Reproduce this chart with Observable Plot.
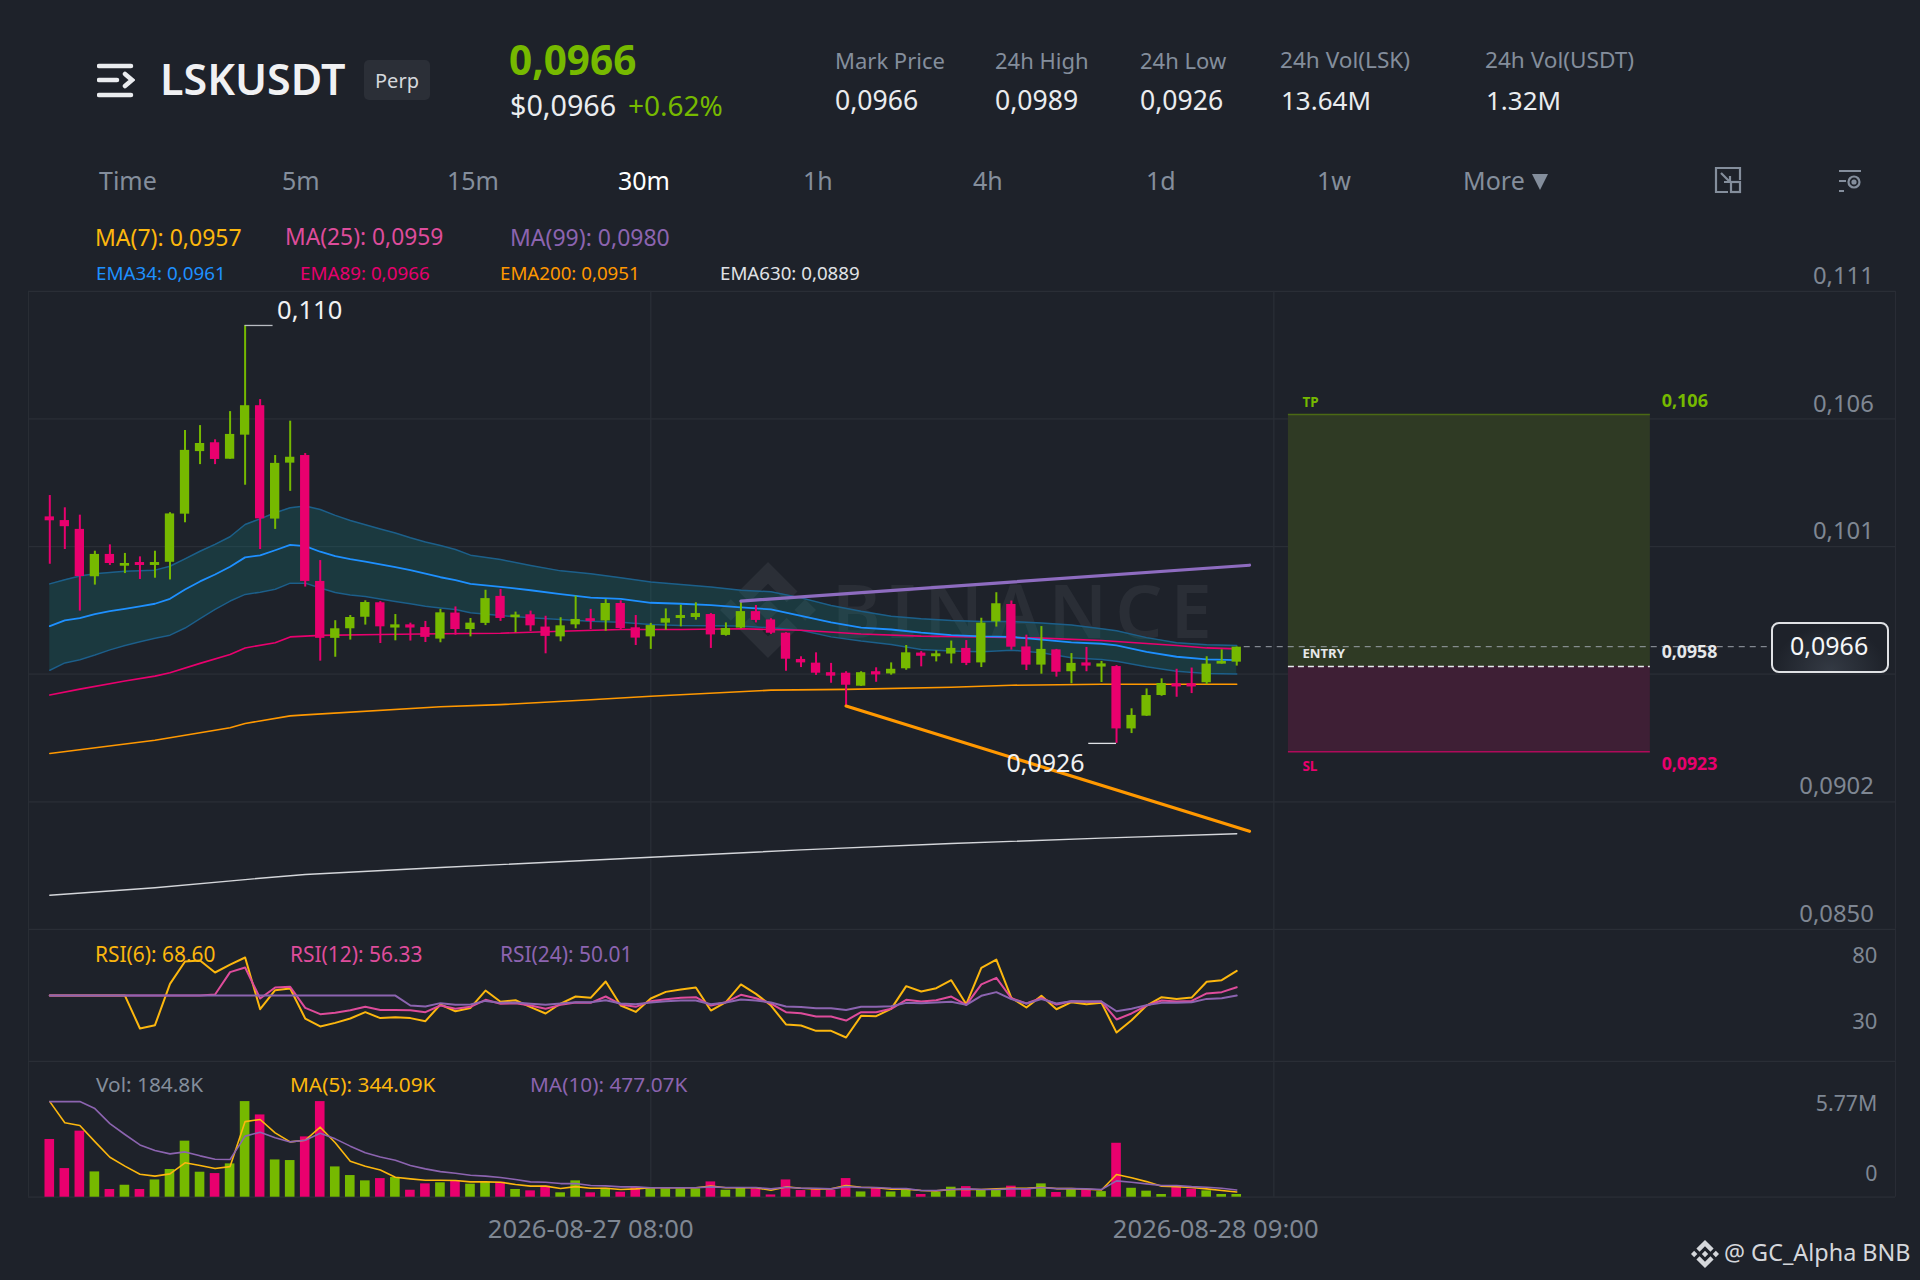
<!DOCTYPE html>
<html><head><meta charset="utf-8">
<script src="https://cdn.jsdelivr.net/npm/d3@7"></script>
<script src="https://cdn.jsdelivr.net/npm/@observablehq/plot@0.6"></script>
<style>
html,body{margin:0;padding:0;background:#1e222a;}
#page{position:relative;width:1920px;height:1280px;overflow:hidden;background:#1e222a;font-family:"Noto Sans",sans-serif;color:#eaecef;}
#page>div.plot{position:absolute;left:0;}
#page svg{display:block;}
.t{position:absolute;white-space:nowrap;transform:translateY(-50%);line-height:1;}
.g{color:#848e9c;}
</style></head>
<body>
<div id="page">
<!-- watermark sits below the charts -->
<svg style="position:absolute;left:720px;top:562px" width="96" height="96" viewBox="0 0 126.61 126.61" fill="#2b2f37"><path d="M38.73 53.2l24.59-24.58 24.6 24.6 14.3-14.31L63.32 0 24.43 38.9z"/><path d="M0 63.31l14.3-14.31 14.31 14.31-14.31 14.3z"/><path d="M38.73 73.41l24.59 24.59 24.6-24.6 14.31 14.29L63.32 126.61 24.43 87.72z"/><path d="M98 63.31l14.3-14.31 14.31 14.31-14.31 14.3z"/><path d="M77.83 63.3L63.32 48.78 52.59 59.51l-1.24 1.23-2.54 2.54 14.51 14.5 14.51-14.47z"/></svg>
<div class="t" style="left:832px;top:610px;font-size:74px;font-weight:600;letter-spacing:8px;color:#2a2e36">BINANCE</div>

<div class="plot" id="pricePlot" style="top:259px"></div>
<div class="plot" id="rsiPlot" style="top:929px"></div>
<div class="plot" id="volPlot" style="top:1061px"></div>

<svg style="position:absolute;left:97px;top:63px" width="38" height="36" fill="none" stroke="#eaecef" stroke-width="4.5" stroke-linecap="round"><path d="M2 3H34M2 17H20M2 32H34M28 11L35 17L28 23" /></svg>
<div class="t" style="left:160px;top:78px;font-size:43px;font-weight:600;color:#f0f1f3">LSKUSDT</div>
<div style="position:absolute;left:364px;top:60px;width:66px;height:40px;border-radius:5px;background:#2b2f37"></div>
<div class="t" style="left:375px;top:81px;font-size:20px;color:#d5d8dc">Perp</div>
<div class="t" style="left:509px;top:60px;font-size:40.5px;font-weight:700;color:#76b900">0,0966</div>
<div class="t" style="left:510px;top:105px;font-size:28.7px;color:#eaecef">$0,0966</div>
<div class="t" style="left:628px;top:105px;font-size:28px;color:#76b900">+0.62%</div>

<div class="t g" style="left:835px;top:60px;font-size:22px">Mark Price</div>
<div class="t" style="left:835px;top:100px;font-size:26.6px">0,0966</div>
<div class="t g" style="left:995px;top:60px;font-size:22px">24h High</div>
<div class="t" style="left:995px;top:100px;font-size:26.6px">0,0989</div>
<div class="t g" style="left:1140px;top:60px;font-size:22px">24h Low</div>
<div class="t" style="left:1140px;top:100px;font-size:26.6px">0,0926</div>
<div class="t g" style="left:1280px;top:60px;font-size:22.6px">24h Vol(LSK)</div>
<div class="t" style="left:1281px;top:100px;font-size:26px">13.64M</div>
<div class="t g" style="left:1485px;top:60px;font-size:22.6px">24h Vol(USDT)</div>
<div class="t" style="left:1486px;top:100px;font-size:26px">1.32M</div>

<div class="t g" style="left:99px;top:180px;font-size:25px">Time</div>
<div class="t g" style="left:282px;top:180px;font-size:25px">5m</div>
<div class="t g" style="left:447px;top:180px;font-size:25px">15m</div>
<div class="t" style="left:618px;top:180px;font-size:25px;color:#fff">30m</div>
<div class="t g" style="left:803px;top:180px;font-size:25px">1h</div>
<div class="t g" style="left:973px;top:180px;font-size:25px">4h</div>
<div class="t g" style="left:1146px;top:180px;font-size:25px">1d</div>
<div class="t g" style="left:1317px;top:180px;font-size:25px">1w</div>
<div class="t g" style="left:1463px;top:180px;font-size:25px">More</div>
<svg style="position:absolute;left:1531px;top:174px" width="20" height="17" fill="#848e9c"><path d="M1 0H17L9 16Z"/></svg>
<svg style="position:absolute;left:1714px;top:166px" width="28" height="28" fill="none" stroke="#848e9c" stroke-width="2.2"><path d="M14 26H2V2H26V14M7 7L16 16M16 10V16H10"/><rect x="17" y="16" width="9" height="10"/></svg>
<svg style="position:absolute;left:1838px;top:169px" width="26" height="24" fill="none" stroke="#848e9c" stroke-width="2.2"><path d="M1 2H23M1 12H8M1 22H6"/><circle cx="16" cy="13" r="5.5"/><circle cx="16" cy="13" r="1.5" fill="#848e9c"/></svg>

<div class="t" style="left:95px;top:237px;font-size:23px;color:#fcb70e">MA(7): 0,0957</div>
<div class="t" style="left:285px;top:237px;font-size:22.8px;color:#de4c9b">MA(25): 0,0959</div>
<div class="t" style="left:510px;top:237px;font-size:23px;color:#8c64b0">MA(99): 0,0980</div>
<div class="t" style="left:96px;top:273px;font-size:18.8px;color:#1e90ff">EMA34: 0,0961</div>
<div class="t" style="left:300px;top:273px;font-size:18.8px;color:#e6006e">EMA89: 0,0966</div>
<div class="t" style="left:500px;top:273px;font-size:18.7px;color:#ff9800">EMA200: 0,0951</div>
<div class="t" style="left:720px;top:273px;font-size:18.7px;color:#e0e2e6">EMA630: 0,0889</div>

<div style="position:absolute;left:1771px;top:622px;width:114px;height:47px;border:2px solid #dfe1e4;border-radius:8px;background:radial-gradient(ellipse at 50% 100%,#343a44 0%,#1e222a 70%)"></div>
<div class="t" style="left:1790px;top:645px;font-size:25px;color:#f5f6f7">0,0966</div>

<div class="t" style="left:95px;top:954px;font-size:20.9px;color:#fcb70e">RSI(6): 68.60</div>
<div class="t" style="left:290px;top:954px;font-size:20.9px;color:#de4c9b">RSI(12): 56.33</div>
<div class="t" style="left:500px;top:954px;font-size:20.9px;color:#8c64b0">RSI(24): 50.01</div>
<div class="t g" style="left:96px;top:1084px;font-size:20.8px">Vol: 184.8K</div>
<div class="t" style="left:290px;top:1084px;font-size:20.8px;color:#fcb70e">MA(5): 344.09K</div>
<div class="t" style="left:530px;top:1084px;font-size:20.8px;color:#8c64b0">MA(10): 477.07K</div>

<svg style="position:absolute;left:1691px;top:1240px" width="28" height="28" viewBox="0 0 126.61 126.61" fill="#d5d7db"><path d="M38.73 53.2l24.59-24.58 24.6 24.6 14.3-14.31L63.32 0 24.43 38.9z"/><path d="M0 63.31l14.3-14.31 14.31 14.31-14.31 14.3z"/><path d="M38.73 73.41l24.59 24.59 24.6-24.6 14.31 14.29L63.32 126.61 24.43 87.72z"/><path d="M98 63.31l14.3-14.31 14.31 14.31-14.31 14.3z"/><path d="M77.83 63.3L63.32 48.78 52.59 59.51l-1.24 1.23-2.54 2.54 14.51 14.5 14.51-14.47z"/></svg>
<div class="t" style="left:1724px;top:1253px;font-size:23.4px;color:#d5d7db">@ GC_Alpha BNB</div>
</div>

<script>
// Prices are in units of 0.0001 USDT
const open = [1018.1,1016.6,1013.0,993.7,1002.8,998.0,999.5,998.3,999.6,1019.2,
1044.7,1048.3,1041.6,1051.4,1063.4,1017.2,1040.0,1043.1,991.8,968.6,
972.5,977.2,983.1,972.8,974.1,973.0,968.3,978.9,972.2,974.7,
985.7,977.0,978.2,973.2,969.2,974.1,976.6,975.7,982.8,972.9,
969.2,974.8,976.7,977.1,978.3,969.8,972.8,979.5,976.1,970.7,
960.0,958.5,954.6,954.4,949.1,955.0,954.1,956.2,962.6,961.1,
962.2,964.5,958.6,975.3,982.4,965.1,957.7,963.9,955.0,958.6,
956.9,957.1,931.7,936.9,945.3,950.1,950.1,950.5,958.1,958.9];
const high = [1026.8,1021.8,1018.8,1004.1,1006.7,1003.2,1001.8,1004.1,1019.8,1053.3,
1055.3,1049.5,1061.0,1096.1,1065.9,1043.1,1057.1,1043.9,1000.3,975.8,
977.9,983.9,983.6,978.3,974.8,975.5,980.4,981.4,976.7,988.2,
988.5,979.3,979.7,977.6,977.0,985.8,980.4,984.4,983.9,977.9,
974.7,980.6,982.1,983.1,978.7,974.9,983.6,982.0,976.6,970.9,
961.1,962.7,958.4,955.0,955.0,956.6,958.6,965.7,963.2,963.5,
967.5,967.7,976.8,987.2,983.8,969.9,973.4,964.1,962.4,964.9,
959.2,957.5,939.9,948.0,952.1,956.0,956.5,961.1,963.9,965.1];
const low = [998.8,1004.8,979.7,990.3,998.3,995.0,992.6,993.1,992.4,1015.7,
1039.4,1039.4,1041.6,1031.0,1004.8,1013.0,1028.5,989.5,959.3,960.9,
967.9,974.0,966.5,967.6,967.5,966.9,966.8,969.9,969.2,973.8,
975.5,970.9,971.4,962.3,967.2,972.5,972.2,971.5,972.2,965.7,
964.1,971.9,973.3,976.0,964.5,969.5,972.5,974.9,970.2,955.2,
956.7,953.5,950.3,941.0,949.0,950.7,953.6,955.6,957.0,959.0,
958.2,957.5,956.7,973.2,963.8,955.5,954.0,952.8,950.1,955.0,
950.6,925.8,929.8,936.8,945.0,944.6,946.1,949.7,958.1,957.3];
const close = [1016.5,1014.1,993.8,1002.8,999.1,999.1,998.3,999.5,1019.3,1045.2,
1048.0,1041.5,1051.7,1063.4,1017.3,1039.9,1042.4,991.8,968.6,972.5,
977.1,983.2,973.3,974.1,972.8,969.0,979.0,972.2,974.8,984.8,
976.7,978.1,973.7,969.4,973.7,976.3,975.5,982.8,972.6,968.7,
973.8,976.6,977.9,978.7,970.0,972.6,979.5,975.9,970.7,960.1,
958.6,954.4,953.2,949.5,954.6,953.7,956.0,962.7,961.3,962.3,
964.5,958.4,974.8,982.7,965.0,957.7,964.1,954.8,958.4,957.3,
958.2,931.7,937.2,945.3,950.2,948.8,948.8,958.1,959.2,965.0];
// Volume, millions
const volume = [3.81,1.89,4.36,1.67,.51,.79,.51,1.14,1.83,3.70,1.65,1.56,2.20,6.31,5.43,2.46,2.42,3.98,6.31,2.00,
1.43,1.08,1.23,1.30,.46,.88,.95,1.06,.86,.99,.99,.51,.42,.73,.29,1.08,.29,.59,.33,.66,
.55,.55,.55,.55,1.01,.46,.59,.55,.15,1.14,.44,.51,.46,1.23,.35,.59,.35,.48,.18,.33,
.66,.70,.46,.46,.73,.51,.88,.31,.51,.46,.37,3.56,.59,.40,.18,.70,.53,.42,.18,.18];
const volMA5 = [6.31,4.91,4.73,3.67,2.64,2.05,1.52,1.39,1.54,2.27,2.09,1.89,2.02,4.99,5.13,4.25,3.65,3.76,4.62,3.59,
2.38,2.05,1.80,1.32,1.21,1.12,1.12,1.10,1.01,1.01,.99,.84,.73,.73,.57,.70,.59,.59,.51,.55,
.62,.62,.62,.62,.73,.62,.62,.62,.46,.68,.59,.55,.55,.77,.66,.62,.53,.53,.44,.42,
.51,.53,.51,.55,.59,.59,.66,.57,.57,.53,.48,1.50,1.28,1.03,.73,.70,.64,.55,.44,.344];
const volMA10 = [6.31,6.31,6.31,5.85,4.86,4.14,3.45,3.08,2.86,2.99,2.73,2.51,2.49,4.03,4.29,3.92,3.65,3.76,4.22,3.85,
3.37,2.93,2.66,2.44,2.09,1.87,1.69,1.58,1.45,1.39,1.30,1.17,1.01,.99,.90,.90,.77,.75,.68,.68,
.62,.62,.62,.62,.68,.64,.64,.64,.55,.66,.59,.59,.55,.70,.64,.64,.59,.57,.44,.44,
.51,.55,.51,.51,.55,.55,.64,.57,.57,.55,.51,1.08,.99,.88,.77,.77,.70,.66,.59,.477];
const rsi6 = [50,50,50,50,50,50,25.2,27.7,58.8,75.7,76.5,67.4,73.4,78.7,39.7,54.1,55.3,32.7,26.7,29.4,
32.7,37.5,33.0,33.7,33.0,30.7,43.3,38.2,40.7,53.8,45.3,46.5,41.3,36.5,44.0,49.3,48.3,60.6,42.5,37.7,
47.8,52.8,54.6,56.1,38.7,45.0,58.4,51.3,42.5,28.2,27.4,23.4,23.4,18.4,34.7,34.5,40.0,57.1,53.1,55.6,
61.6,43.5,70.9,77.2,48.3,41.0,49.8,39.7,45.0,43.5,44.5,22.1,31.4,42.5,48.8,47.5,48.5,60.4,61.6,68.6];
const rsi12 = [50,50,50,50,50,50,50,50,50,50,50,50.8,67.7,71.2,47.8,56.1,56.6,40.7,36.0,37.0,
39.0,41.5,39.2,39.2,39.0,37.5,42.5,40.0,41.5,46.8,43.8,44.3,42.5,40.0,43.0,44.8,44.5,49.3,43.3,41.5,
45.8,47.3,48.3,48.8,42.5,45.0,50.6,48.0,44.0,37.5,36.7,34.2,34.2,31.2,37.5,37.5,40.0,46.8,45.5,46.5,
49.3,43.0,58.4,63.4,48.0,44.0,48.3,43.3,45.8,45.3,45.5,32.0,36.5,42.5,46.3,45.5,46.0,51.6,52.6,56.33];
const rsi24 = [50,50,50,50,50,50,50,50,50,50,50,50,50,50,50,50,50,50,50,50,
50,50,50,50,42.5,41.8,44.3,43.0,43.3,46.0,44.5,44.8,43.8,43.0,44.0,45.0,45.0,46.5,44.0,43.5,
44.8,45.8,46.3,46.3,43.5,44.8,47.0,46.3,44.8,41.8,41.3,40.5,40.5,39.2,41.5,41.5,42.0,44.5,44.3,44.8,
45.3,43.0,49.8,52.6,47.3,44.0,47.3,44.0,45.8,45.5,45.5,38.2,40.0,42.8,44.5,44.5,45.0,47.5,48.0,50.01];
// EMA34 and its band, read at these candle indices
const bandIdx = [0,1,2,3,4,5,6,7,8,9,10,11,12,13,14,15,16,17,18,19,20,21,22,23,24,25,26,27,
28,30,32,34,36,38,40,42,44,46,48,50,52,54,56,58,60,62,64,66,68,70,71,73,75,77,79];
const ema34 = [973.6,975.9,976.8,978.5,979.7,980.6,981.6,982.7,984.7,988.5,991.8,994.6,997.8,1001.6,1002.4,1004.5,1006.7,1006.2,1003.9,1002.1,1000.9,999.9,998.7,997.6,996.4,995.0,993.5,992.3,
990.8,989.6,988.2,986.6,985.2,984.7,983.1,982.7,982.1,981.2,980.4,977.8,975.1,973.0,972.2,970.9,969.9,969.4,969.2,968.1,967.0,966.4,965.7,963.1,961.1,960.0,959.7];
const bandUpper = [990.8,992.5,994.0,994.9,995.4,995.9,996.1,996.4,998.0,1001.0,1004.1,1006.9,1010.0,1015.0,1017.3,1019.8,1021.8,1022.5,1021.1,1018.7,1016.6,1014.9,1013.2,1011.5,1009.6,1007.9,1006.4,1004.8,
1002.5,1000.7,998.3,996.1,994.9,993.3,991.6,990.5,989.5,988.2,987.6,985.1,982.0,979.6,977.6,976.6,975.9,975.5,975.5,974.9,974.0,972.5,971.7,968.9,966.8,966.0,965.7];
const bandLower = [955.6,958.6,959.9,961.8,963.9,965.7,967.2,968.6,969.9,972.8,976.6,980.4,983.8,986.5,987.4,988.6,991.1,991.1,989.1,987.3,986.3,985.7,984.6,983.6,982.7,981.7,981.0,980.4,
979.0,977.9,977.0,976.3,975.6,975.2,974.2,973.8,973.7,973.6,972.9,971.9,969.2,967.5,966.1,964.1,963.4,963.1,963.8,962.7,960.7,960.0,959.3,957.0,955.2,954.3,954.1];
const ema89Idx = [0,2,5,7,8,10,12,13,15,16,17,18,22,26,30,34,38,42,46,50,54,58,62,66,70,73,75,77,79];
const ema89 = [945.5,947.9,951.2,953.2,954.6,958.4,962.0,964.7,966.8,969.2,969.5,969.8,970.2,970.5,970.7,971.5,972.2,972.2,972.5,971.9,970.4,969.5,969.2,968.7,967.7,966.5,965.7,964.7,964.3];
const ema200Idx = [0,7,8,12,13,16,17,26,30,36,40,48,53,60,64,70,79];
const ema200 = [921.7,927.1,928.1,932.2,933.9,937.0,937.4,940.7,941.6,943.6,945.0,947.5,947.8,948.7,949.5,949.9,949.9];
const ema630Idx = [0,7,13,17,26,40,50,60,70,79];
const ema630 = [863.9,867.0,870.3,872.4,875.2,879.4,882.4,885.0,887.2,889.0];
const trendUpIdx = [46,79.85], trendUp = [983.8,998.4];
const trendDownIdx = [53,79.85], trendDown = [941.0,890.0];
const priceTicks = [1110,1058,1006,902,850];
const priceLabels = ["0,111","0,106","0,101","0,0902","0,0850"];
const priceGrid = [1110,1058,1006,954,902,850];
const rsiTicks = [80,30], rsiLabels = ["80","30"];
const dateTicks = [36,77.6], dateLabels = ["2026-08-27 08:00","2026-08-28 09:00"];
const tpLevel = 1059.8, entryLevel = 957.1, slLevel = 922.4, lastPrice = 965.2;

const P = v => v*1e-4;
const GREEN="#76b900", PINK="#e9006e", GRID="#2a2e36", AXIS="#7f8793";
const YEL="#fcb70e", MAG="#de4c9b", PUR="#8c64b0";
const FONT='"Noto Sans",sans-serif';
const X = {domain:[-3.281,124.51],range:[0,1920],axis:null};
const FRAME_L=-1.42, FRAME_R=122.85, GRIDX=[40,81.47];
const base = {width:1920,marginTop:0,marginRight:0,marginBottom:0,marginLeft:0,x:X,
  style:{background:"transparent",fontFamily:FONT,overflow:"visible"}};

const candles = open.map((o,i)=>({i,o:P(o),h:P(high[i]),l:P(low[i]),c:P(close[i]),v:volume[i],up:close[i]>=o}));
const ups=candles.filter(d=>d.up), downs=candles.filter(d=>!d.up);
const band = bandIdx.map((i,k)=>({i,e:P(ema34[k]),u:P(bandUpper[k]),d:P(bandLower[k])}));
const line=(idx,vals,o)=>Plot.line(idx.map((i,k)=>({i,v:P(vals[k])})),{x:"i",y:"v",...o});
const candleMarks=(arr,col)=>[
  Plot.ruleX(arr,{x:"i",y1:"l",y2:"h",stroke:col,strokeWidth:2}),
  Plot.rect(arr,{x1:d=>d.i-.31,x2:d=>d.i+.31,y1:"o",y2:"c",fill:col})
];
const label=(x,y,text,o)=>Plot.text([{x,y:P(y),text}],{x:"x",y:"y",text:"text",textAnchor:"start",...o});

document.getElementById("pricePlot").append(Plot.plot({...base,height:670,
  y:{domain:[0.084996,0.112298],range:[670,0],axis:null},
  marks:[
    Plot.ruleY(priceGrid.map(P),{x1:FRAME_L,x2:FRAME_R,stroke:GRID,strokeWidth:1.3}),
    Plot.ruleX(GRIDX,{y1:P(850),y2:P(1110),stroke:GRID,strokeWidth:1.3}),
    Plot.ruleX([FRAME_L,FRAME_R],{y1:P(850),y2:P(1110),stroke:GRID,strokeWidth:1}),
    Plot.rect([0],{x1:82.44,x2:106.53,y1:P(entryLevel),y2:P(tpLevel),fill:"#2f3a24"}),
    Plot.rect([0],{x1:82.44,x2:106.53,y1:P(slLevel),y2:P(entryLevel),fill:"#3e1f35"}),
    Plot.ruleY([P(tpLevel)],{x1:82.44,x2:106.53,stroke:"#4b6a14",strokeWidth:1.5}),
    Plot.ruleY([P(slLevel)],{x1:82.44,x2:106.53,stroke:"#b00a5a",strokeWidth:1.5}),
    Plot.ruleY([P(entryLevel)],{x1:82.44,x2:106.53,stroke:"#e6e8ea",strokeWidth:1.5,strokeDasharray:"6,4"}),
    Plot.ruleY([P(lastPrice)],{x1:79.5,x2:114.6,stroke:"#9aa0a8",strokeWidth:1,strokeDasharray:"6,5"}),
    Plot.areaY(band,{x:"i",y1:"d",y2:"u",fill:"rgb(14,150,150)",fillOpacity:.2}),
    Plot.line(band,{x:"i",y:"u",stroke:"#1c5f8a",strokeWidth:1.5}),
    Plot.line(band,{x:"i",y:"d",stroke:"#1c5f8a",strokeWidth:1.5}),
    line(ema630Idx,ema630,{stroke:"#d4d6da",strokeWidth:1.4}),
    line(ema200Idx,ema200,{stroke:"#ff9800",strokeWidth:1.6}),
    line(ema89Idx,ema89,{stroke:PINK,strokeWidth:1.6}),
    Plot.line(band,{x:"i",y:"e",stroke:"#1e90ff",strokeWidth:1.8}),
    ...candleMarks(ups,GREEN),
    ...candleMarks(downs,PINK),
    line(trendUpIdx,trendUp,{stroke:"#8e6cc0",strokeWidth:3.2}),
    line(trendDownIdx,trendDown,{stroke:"#ff9800",strokeWidth:3.2}),
    Plot.ruleY([P(1096.1)],{x1:13,x2:14.86,stroke:"#b9bcc2",strokeWidth:1.3}),
    Plot.ruleY([P(925.8)],{x1:69.15,x2:71,stroke:"#e0e2e6",strokeWidth:1.3}),
    label(15.13,1101.9,"0,110",{fill:"#f0f1f3",fontSize:25.5}),
    label(66.27,917.6,"0,0926",{fill:"#f0f1f3",fontSize:25,textAnchor:"middle"}),
    label(83.37,1064.7,"TP",{fill:GREEN,fontSize:13.5,fontWeight:700}),
    label(83.37,962.4,"ENTRY",{fill:"#e6e8ea",fontSize:13.2,fontWeight:700}),
    label(83.37,916.4,"SL",{fill:PINK,fontSize:13.5,fontWeight:700}),
    label(107.28,1065.1,"0,106",{fill:GREEN,fontSize:18,fontWeight:700}),
    label(107.28,963.0,"0,0958",{fill:"#e6e8ea",fontSize:17.7,fontWeight:700}),
    label(107.28,917.2,"0,0923",{fill:PINK,fontSize:17.7,fontWeight:700}),
    Plot.text(priceTicks.map((t,k)=>({y:P(t),s:priceLabels[k]})),{x:121.4,y:"y",text:"s",textAnchor:"end",dy:-15,fill:AXIS,fontSize:23.8})
  ]}));

document.getElementById("rsiPlot").append(Plot.plot({...base,height:133,
  y:{domain:[0.29-0.754,99.83],range:[133,0],axis:null},
  marks:[
    Plot.ruleY([0.4],{x1:FRAME_L,x2:FRAME_R,stroke:GRID,strokeWidth:1.3}),
    Plot.ruleX(GRIDX,{y1:0.4,y2:99.83,stroke:GRID,strokeWidth:1.3}),
    Plot.ruleX([FRAME_L,FRAME_R],{y1:0.4,y2:99.83,stroke:GRID,strokeWidth:1}),
    Plot.line(rsi6,{x:(d,i)=>i,y:d=>d,stroke:YEL,strokeWidth:2}),
    Plot.line(rsi12,{x:(d,i)=>i,y:d=>d,stroke:MAG,strokeWidth:2}),
    Plot.line(rsi24,{x:(d,i)=>i,y:d=>d,stroke:PUR,strokeWidth:2}),
    Plot.text(rsiTicks.map((t,k)=>({y:t,s:rsiLabels[k]})),{x:121.64,y:"y",text:"s",textAnchor:"end",fill:AXIS,fontSize:22})
  ]}));

document.getElementById("volPlot").append(Plot.plot({...base,height:218,
  y:{domain:[-5.43,8.956],range:[218,0],axis:null},
  marks:[
    Plot.ruleY([0],{x1:FRAME_L,x2:FRAME_R,stroke:GRID,strokeWidth:1.3}),
    Plot.ruleX(GRIDX,{y1:0,y2:8.956,stroke:GRID,strokeWidth:1.3}),
    Plot.ruleX([FRAME_L,FRAME_R],{y1:0,y2:8.956,stroke:GRID,strokeWidth:1}),
    Plot.rect(ups,{x1:d=>d.i-.32,x2:d=>d.i+.32,y1:0,y2:"v",fill:GREEN}),
    Plot.rect(downs,{x1:d=>d.i-.32,x2:d=>d.i+.32,y1:0,y2:"v",fill:PINK}),
    Plot.line(volMA5,{x:(d,i)=>i,y:d=>d,stroke:YEL,strokeWidth:1.6}),
    Plot.line(volMA10,{x:(d,i)=>i,y:d=>d,stroke:PUR,strokeWidth:1.6}),
    Plot.text([{y:5.77,s:"5.77M"}],{x:121.64,y:"y",text:"s",textAnchor:"end",dy:-6,fill:AXIS,fontSize:21.3}),
    Plot.text([{y:0,s:"0"}],{x:121.64,y:"y",text:"s",textAnchor:"end",dy:-23,fill:AXIS,fontSize:21.3}),
    Plot.text(dateTicks.map((t,k)=>({x:t,s:dateLabels[k]})),{x:"x",y:0,text:"s",dy:33,fill:AXIS,fontSize:25.6})
  ]}));
</script>
</body></html>
